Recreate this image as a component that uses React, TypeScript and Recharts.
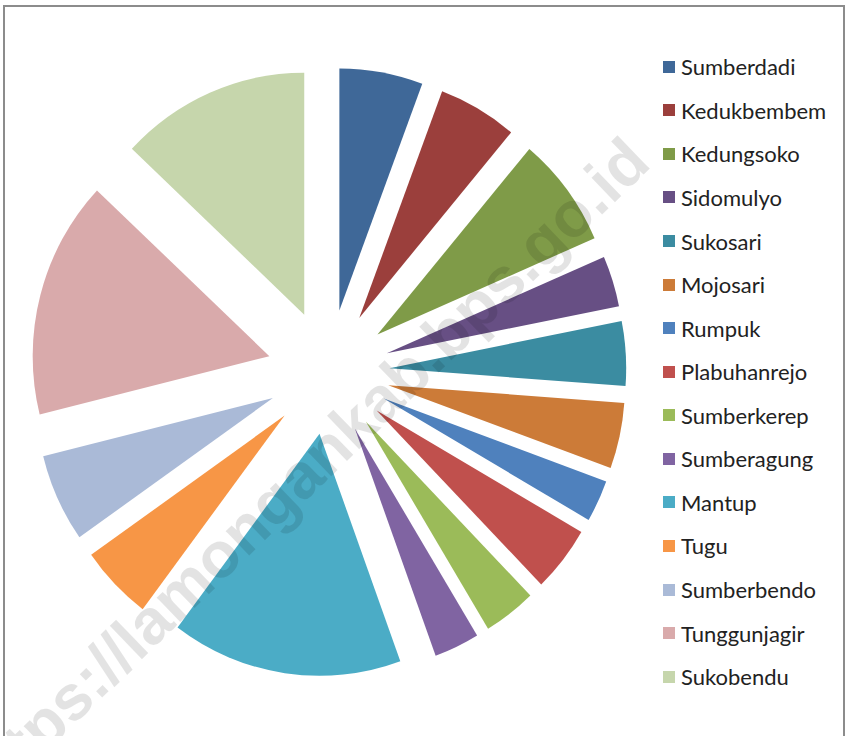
import { PieChart, Pie, Cell, Legend } from "recharts";

// desa names, in the order Excel draws them (clockwise from 12 o'clock)
const villages = [
    "Sumberdadi",
    "Kedukbembem",
    "Kedungsoko",
    "Sidomulyo",
    "Sukosari",
    "Mojosari",
    "Rumpuk",
    "Plabuhanrejo",
    "Sumberkerep",
    "Sumberagung",
    "Mantup",
    "Tugu",
    "Sumberbendo",
    "Tunggunjagir",
    "Sukobendu",
];

// share of each slice (%)
const shares = [5.7, 5.4, 7.4, 3.4, 4.3, 4.4, 2.8, 4.4, 3.6, 3.1, 15.8, 5.0, 5.9, 15.9, 13.0];

const colors = [
    "#3f6898",
    "#9b3f3c",
    "#7f9b48",
    "#674f84",
    "#3b8ca1",
    "#cc7b38",
    "#4f81bd",
    "#c0504d",
    "#9bbb59",
    "#8064a2",
    "#4bacc6",
    "#f79646",
    "#aabad7",
    "#d9aaab",
    "#c6d6ac",
];

const data = villages.map((name, i) => ({ name, value: shares[i] }));

const WIDTH = 849;
const HEIGHT = 736;
const CX = 328.5;
const CY = 372;
const RADIUS = 242;
const EXPLODE = 62.5; // ~25% of the radius, like Excel's point explosion
const SQUASH_X = 0.978; // the source image is a little narrower than tall

// push every slice out along its own mid angle
const total = shares.reduce((a, b) => a + b, 0);
let acc = 0;
const offsets = shares.map((v) => {
    const mid = ((acc + v / 2) / total) * 2 * Math.PI;
    acc += v;
    return { dx: EXPLODE * Math.sin(mid), dy: -EXPLODE * Math.cos(mid) };
});

const sliceTransform = (i: number) =>
    `matrix(${SQUASH_X},0,0,1,${CX * (1 - SQUASH_X)},0) translate(${offsets[i].dx},${offsets[i].dy})`;

const ROW = 43.57;

function renderLegend() {
    return (
        <div style={{ fontFamily: "Lato", fontSize: 22, color: "#222" }}>
            {villages.map((name, i) => (
                <div
                    key={name}
                    style={{ display: "flex", alignItems: "center", height: ROW }}
                >
                    <span
                        style={{
                            display: "inline-block",
                            width: 12,
                            height: 12,
                            background: colors[i],
                            marginRight: 6,
                        }}
                    />
                    <span>{name}</span>
                </div>
            ))}
        </div>
    );
}

export default function App() {
    return (
        <div
            style={{
                position: "absolute",
                left: 0,
                top: 0,
                width: WIDTH,
                height: HEIGHT,
                background: "#fff",
                overflow: "hidden",
            }}
        >
            {/* chart frame, bottom edge is cut off in the picture */}
            <div
                style={{
                    position: "absolute",
                    left: 3,
                    top: 5,
                    width: 842,
                    height: 731,
                    borderTop: "2px solid #8c8c8c",
                    borderLeft: "2px solid #8c8c8c",
                    borderRight: "2px solid #8c8c8c",
                    boxSizing: "border-box",
                }}
            />
            <div style={{ position: "absolute", left: 0, top: 0 }}>
                <PieChart
                    width={WIDTH}
                    height={HEIGHT}
                    margin={{ top: 0, right: 0, bottom: 0, left: 0 }}
                >
                    <Pie
                        data={data}
                        dataKey="value"
                        nameKey="name"
                        cx={CX}
                        cy={CY}
                        outerRadius={RADIUS}
                        startAngle={90}
                        endAngle={-270}
                        stroke="none"
                        isAnimationActive={false}
                    >
                        {data.map((d, i) => (
                            <Cell key={d.name} fill={colors[i]} transform={sliceTransform(i)} />
                        ))}
                    </Pie>
                    <Legend
                        layout="vertical"
                        align="right"
                        verticalAlign="top"
                        content={renderLegend}
                        wrapperStyle={{ left: 663, right: "auto", top: 45, width: 186 }}
                    />
                </PieChart>
            </div>
            {/* BPS watermark */}
            <svg
                width={WIDTH}
                height={HEIGHT}
                style={{ position: "absolute", left: 0, top: 0, pointerEvents: "none" }}
            >
                <text
                    x={319}
                    y={488}
                    transform="rotate(-44 319 488)"
                    textAnchor="middle"
                    fontFamily="Liberation Sans, Arial, sans-serif"
                    fontWeight="bold"
                    fontSize={64}
                    fill="#000"
                    fillOpacity={0.11}
                >
                    https://lamongankab.bps.go.id
                </text>
            </svg>
        </div>
    );
}
